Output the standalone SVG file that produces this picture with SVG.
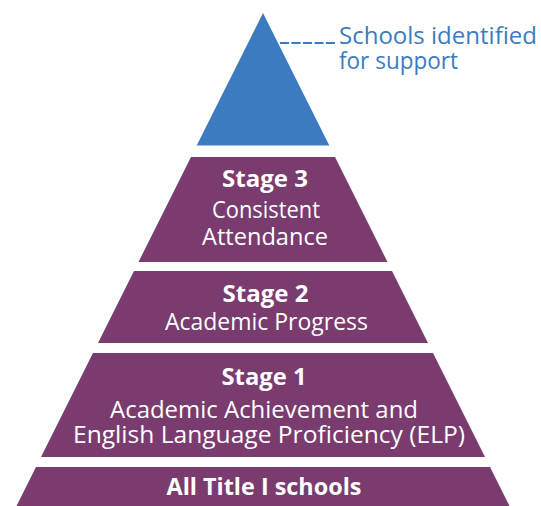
<svg xmlns="http://www.w3.org/2000/svg" width="541" height="506" viewBox="0 0 541 506">
  <style>
    .tier { fill: #7a3b6e; }
    .peak { fill: #3c7bc0; }
    .head { font-family: "Open Sans", "Noto Sans", "Liberation Sans", sans-serif; font-weight: 700; font-size: 23px; fill: #ffffff; text-anchor: middle; }
    .body { font-family: "Open Sans", "Noto Sans", "Liberation Sans", sans-serif; font-weight: 400; font-size: 24px; fill: #ffffff; text-anchor: middle; }
    .note { font-family: "Open Sans", "Noto Sans", "Liberation Sans", sans-serif; font-weight: 400; font-size: 24px; fill: #3c7bc0; }
  </style>
  <rect width="541" height="506" fill="#ffffff"/>

  <!-- top of the pyramid -->
  <g id="identified">
    <polygon class="peak" points="263,13 329.3,145.5 196.7,145.5"/>
  </g>

  <g id="stage3">
    <polygon class="tier" points="191,157 335,157 387.5,262 138.5,262"/>
    <text class="head" x="265" y="187" textLength="86" lengthAdjust="spacingAndGlyphs">Stage 3</text>
    <text class="body" x="266" y="218" textLength="108" lengthAdjust="spacingAndGlyphs">Consistent</text>
    <text class="body" x="265" y="245" textLength="126" lengthAdjust="spacingAndGlyphs">Attendance</text>
  </g>

  <g id="stage2">
    <polygon class="tier" points="134,271 392,271 428,343 98,343"/>
    <text class="head" x="265.5" y="302" textLength="86" lengthAdjust="spacingAndGlyphs">Stage 2</text>
    <text class="body" x="266.5" y="330" textLength="203" lengthAdjust="spacingAndGlyphs">Academic Progress</text>
  </g>

  <g id="stage1">
    <polygon class="tier" points="93,353 433,353 485,457 41,457"/>
    <text class="head" x="264" y="385" textLength="85" lengthAdjust="spacingAndGlyphs">Stage 1</text>
    <text class="body" x="264" y="418" textLength="308" lengthAdjust="spacingAndGlyphs">Academic Achievement and</text>
    <text class="body" x="269" y="443" textLength="392" lengthAdjust="spacingAndGlyphs">English Language Proficiency (ELP)</text>
  </g>

  <g id="all-title-i">
    <polygon class="tier" points="36,467 490,467 512,511 14,511"/>
    <text class="head" x="264" y="495" textLength="195" lengthAdjust="spacingAndGlyphs">All Title I schools</text>
  </g>

  <!-- callout leader for the top tier -->
  <g id="connectors">
    <line x1="280" y1="43" x2="337" y2="43" stroke="#3c7bc0" stroke-width="1.8" stroke-dasharray="9 2.5"/>
  </g>

  <g id="callout">
    <text class="note" x="339" y="44" textLength="198" lengthAdjust="spacingAndGlyphs">Schools identified</text>
    <text class="note" x="339" y="69" textLength="119" lengthAdjust="spacingAndGlyphs">for support</text>
  </g>
</svg>
